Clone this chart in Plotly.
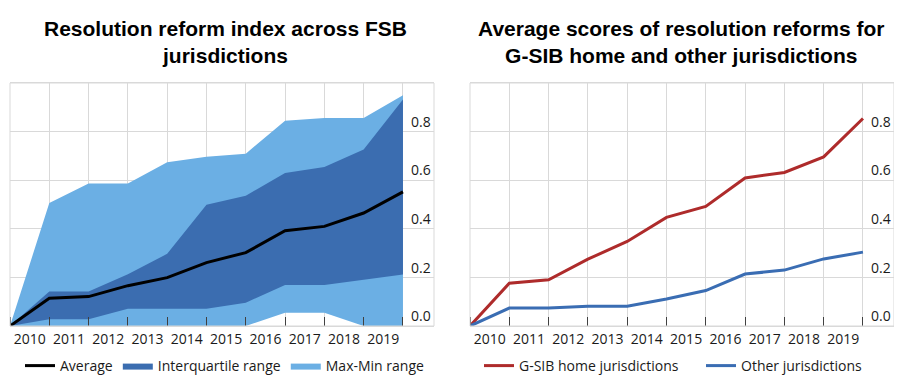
import plotly.graph_objects as go

# ---- data ----
years = [str(y) for y in range(2010, 2020)]
points = list(range(11))  # boundaries: start of 2010 ... end of 2019
label_pos = [i + 0.5 for i in range(10)]

max_vals = [0, 0.506, 0.586, 0.586, 0.674, 0.696, 0.709, 0.845, 0.856, 0.856, 0.950]
q3_vals = [0, 0.142, 0.142, 0.213, 0.297, 0.499, 0.536, 0.630, 0.654, 0.726, 0.932]
avg_vals = [0, 0.114, 0.121, 0.166, 0.199, 0.261, 0.302, 0.392, 0.410, 0.465, 0.552]
q1_vals = [0, 0.028, 0.028, 0.071, 0.071, 0.071, 0.096, 0.169, 0.169, 0.190, 0.212]
min_vals = [0, 0, 0, 0, 0, 0, 0, 0.055, 0.055, 0, 0]

gsib_vals = [0, 0.176, 0.190, 0.275, 0.348, 0.447, 0.492, 0.609, 0.632, 0.696, 0.854]
other_vals = [0, 0.074, 0.074, 0.081, 0.081, 0.111, 0.146, 0.214, 0.230, 0.276, 0.304]

y_ticks = [0, 0.2, 0.4, 0.6, 0.8]
y_ticktext = ["0.0", "0.2", "0.4", "0.6", "0.8"]

# ---- style ----
LIGHT = "#6BAFE4"
DARK = "#3B6DB0"
RED = "#AE2B2B"
BLUE = "#3A6DB3"
GRID = "#D9D9D9"
TICK = "#404040"
TXT = "#1a1a1a"
FONT = "Open Sans"

# the page body has an 8px default margin; lay out in page pixels
OFF = 8
W, H = 902 - OFF, 380 - OFF


def px(xp):
    return (xp - OFF) / W


def py(yp):
    return 1 - (yp - OFF) / H


fig = go.Figure()

fig.add_trace(go.Scatter(x=points, y=min_vals, mode="lines", line=dict(width=0),
                         showlegend=False, hoverinfo="skip", xaxis="x", yaxis="y"))
fig.add_trace(go.Scatter(x=points, y=max_vals, mode="lines", line=dict(width=0),
                         fill="tonexty", fillcolor=LIGHT, name="Max-Min range",
                         legend="legend", legendrank=3, xaxis="x", yaxis="y"))
fig.add_trace(go.Scatter(x=points, y=q1_vals, mode="lines", line=dict(width=0),
                         showlegend=False, hoverinfo="skip", xaxis="x", yaxis="y"))
fig.add_trace(go.Scatter(x=points, y=q3_vals, mode="lines", line=dict(width=0),
                         fill="tonexty", fillcolor=DARK, name="Interquartile range",
                         legend="legend", legendrank=2, xaxis="x", yaxis="y"))
fig.add_trace(go.Scatter(x=points, y=avg_vals, mode="lines", line=dict(width=3, color="black"),
                         name="Average", legend="legend", legendrank=1, xaxis="x", yaxis="y"))

fig.add_trace(go.Scatter(x=points, y=gsib_vals, mode="lines", line=dict(width=3, color=RED),
                         name="G-SIB home jurisdictions", legend="legend2", xaxis="x2", yaxis="y2"))
fig.add_trace(go.Scatter(x=points, y=other_vals, mode="lines", line=dict(width=3, color=BLUE),
                         name="Other jurisdictions", legend="legend3", xaxis="x2", yaxis="y2"))

ydom = [py(326), py(83)]


def xaxis(x0, x1, anchor):
    return dict(domain=[px(x0), px(x1)], anchor=anchor, range=[0, 10.79],
                tickmode="array", tickvals=label_pos, ticktext=years, ticks="",
                showgrid=False, zeroline=False, showline=True, mirror=True,
                linecolor=GRID, linewidth=1,
                tickfont=dict(family=FONT, size=14, color=TXT),
                minor=dict(tickmode="array", tickvals=points, ticks="inside", ticklen=9,
                           tickcolor=TICK, tickwidth=1, showgrid=True,
                           gridcolor=GRID, gridwidth=1),
                fixedrange=True)


def yaxis(pos_page):
    return dict(domain=ydom, anchor="free", position=px(pos_page), range=[0, 1], side="right",
                tickmode="array", tickvals=y_ticks, ticktext=y_ticktext, ticks="",
                ticklabelposition="outside top",
                showgrid=True, gridcolor=GRID, gridwidth=1, zeroline=False,
                showline=False,
                tickfont=dict(family=FONT, size=14, color=TXT),
                fixedrange=True)


legend_common = dict(orientation="h", yanchor="middle", y=py(366), xanchor="left",
                     traceorder="normal",
                     font=dict(family=FONT, size=14, color=TXT),
                     bgcolor="rgba(0,0,0,0)", borderwidth=0)

title_font = dict(family="Liberation Sans, Arial", size=21, color="black", weight=700)

frame = dict(type="rect", x0=0, x1=1, y0=0, y1=1, line=dict(color=GRID, width=1),
             fillcolor="rgba(0,0,0,0)", layer="above")

fig.update_layout(
    width=W, height=H,
    margin=dict(l=0, r=0, t=0, b=0, autoexpand=False),
    paper_bgcolor="white", plot_bgcolor="white",
    xaxis=xaxis(10, 434, "y"),
    yaxis=yaxis(410),
    xaxis2=xaxis(470, 894, "y2"),
    yaxis2=yaxis(870),
    legend=dict(x=px(20), **legend_common),
    legend2=dict(x=px(479), **legend_common),
    legend3=dict(x=px(701), **legend_common),
    shapes=[
        dict(xref="x domain", yref="y domain", **frame),
        dict(xref="x2 domain", yref="y2 domain", **frame),
    ],
    annotations=[
        dict(text="Resolution reform index across FSB<br>jurisdictions", x=px(225),
             y=py(42), xref="paper", yref="paper", xanchor="center", yanchor="middle",
             showarrow=False, font=title_font),
        dict(text="Average scores of resolution reforms for<br>G-SIB home and other jurisdictions",
             x=px(681), y=py(42), xref="paper", yref="paper", xanchor="center",
             yanchor="middle", showarrow=False, font=title_font),
    ],
)

fig.write_html("out.html")
